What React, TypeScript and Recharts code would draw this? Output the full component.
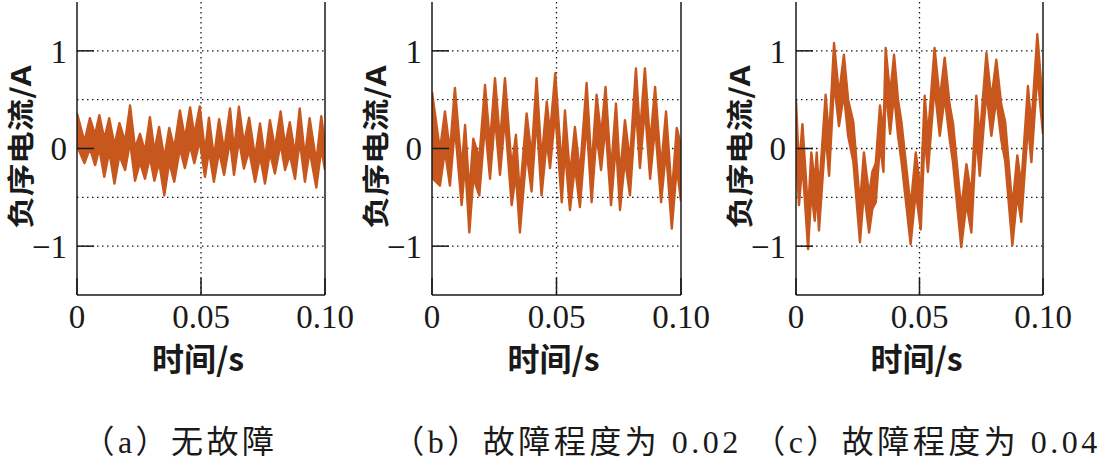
import { Area, CartesianGrid, ComposedChart, ReferenceLine, XAxis, YAxis } from "recharts";

// (a) 无故障 — band edges read at each local peak / trough
const aTime = [
  0, 0.003, 0.0052, 0.0073, 0.009, 0.011, 0.013, 0.0151, 0.0171, 0.0194, 0.0214, 0.0234, 0.0254,
  0.0274, 0.0294, 0.0312, 0.0331, 0.0352, 0.0372, 0.0392, 0.0415, 0.0435, 0.0456, 0.0473, 0.0495,
  0.0516, 0.0532, 0.0552, 0.0573, 0.0593, 0.0617, 0.0633, 0.0653, 0.0673, 0.0694, 0.0718, 0.0738,
  0.0758, 0.0778, 0.0798, 0.0821, 0.0839, 0.0858, 0.0879, 0.0898, 0.0919, 0.0938, 0.0965, 0.0985, 0.1,
];
const aUpper = [
  0.36, 0.07, 0.31, 0.14, 0.34, 0.1, 0.31, 0.03, 0.26, 0.07, 0.44, 0.0, 0.15,
  -0.03, 0.32, -0.03, 0.22, -0.1, 0.21, 0.0, 0.39, 0.1, 0.42, 0.14, 0.43,
  -0.04, 0.315, -0.09, 0.3, -0.02, 0.41, -0.02, 0.427, 0.05, 0.315, -0.09, 0.256,
  -0.11, 0.29, 0.0, 0.38, 0.03, 0.27, -0.06, 0.41, -0.09, 0.31, -0.14, 0.33, 0.03,
];
const aLower = [
  0.03, -0.15, 0.0, -0.17, 0.0, -0.29, -0.03, -0.36, -0.07, -0.22, 0.07, -0.33, -0.14,
  -0.31, -0.09, -0.33, -0.14, -0.48, -0.14, -0.34, 0.0, -0.2, 0.03, -0.15, 0.08,
  -0.29, -0.02, -0.34, -0.03, -0.27, 0.08, -0.27, 0.09, -0.205, -0.02, -0.34, -0.08,
  -0.36, -0.04, -0.256, 0.05, -0.22, -0.06, -0.31, 0.08, -0.34, -0.02, -0.4, 0.0, -0.22,
];

// (b) 故障程度为 0.02
const bTime = [
  0, 0.0032, 0.0052, 0.0072, 0.0092, 0.0119, 0.0133, 0.015, 0.0166, 0.019, 0.0213, 0.0233, 0.0253,
  0.0273, 0.0293, 0.032, 0.0337, 0.0353, 0.038, 0.04, 0.042, 0.044, 0.0461, 0.0474, 0.0495,
  0.0521, 0.0534, 0.0554, 0.0574, 0.0594, 0.0621, 0.0641, 0.0661, 0.0679, 0.0697, 0.0719, 0.0739,
  0.0755, 0.0775, 0.0795, 0.0819, 0.0835, 0.0855, 0.0876, 0.0896, 0.092, 0.094, 0.0963, 0.0983, 0.1,
];
const bUpper = [
  0.58, -0.02, 0.38, -0.03, 0.62, -0.2, 0.24, -0.45, 0.1, -0.1, 0.65, 0.05, 0.72,
  0.07, 0.72, -0.2, 0.14, -0.48, 0.36, -0.08, 0.72, -0.12, 0.48, 0.15, 0.77,
  -0.2, 0.39, -0.28, 0.22, -0.25, 0.67, -0.2, 0.55, 0.13, 0.63, -0.23, 0.46,
  -0.28, 0.29, -0.13, 0.82, 0.15, 0.82, 0.04, 0.63, -0.2, 0.38, -0.47, 0.21, 0.03,
];
const bLower = [
  -0.3, -0.38, -0.02, -0.38, 0.22, -0.58, -0.15, -0.86, -0.3, -0.48, 0.25, -0.31, 0.32,
  -0.27, 0.32, -0.58, -0.26, -0.86, -0.04, -0.44, 0.32, -0.48, 0.08, -0.2, 0.37,
  -0.55, -0.01, -0.63, -0.18, -0.6, 0.27, -0.55, 0.15, -0.22, 0.23, -0.58, 0.06,
  -0.63, -0.11, -0.48, 0.42, -0.2, 0.42, -0.31, 0.23, -0.55, -0.02, -0.82, -0.19, -0.54,
];

// (c) 故障程度为 0.04
const cTime = [
  0, 0.0012, 0.0026, 0.0049, 0.0062, 0.0076, 0.0084, 0.0093, 0.012, 0.0134, 0.0154, 0.0174, 0.0194,
  0.0211, 0.0232, 0.0259, 0.0275, 0.0296, 0.0309, 0.0323, 0.034, 0.0354, 0.0363, 0.0381, 0.0397,
  0.0413, 0.0427, 0.0464, 0.0485,
  0.0505, 0.0521, 0.0534, 0.0561, 0.0582, 0.0602, 0.0622, 0.0636, 0.0669, 0.069, 0.071, 0.073,
  0.0744, 0.0771, 0.0791, 0.0811, 0.0831, 0.0847, 0.0876, 0.0896, 0.0912, 0.0939, 0.0953, 0.0977, 0.1,
];
const cUpper = [
  0.49, -0.2, 0.25, -0.65, -0.04, -0.35, -0.04, -0.45, 0.55, 0.1, 1.08, 0.55, 0.96,
  0.5, 0.27, -0.58, -0.04, -0.48, -0.24, -0.15, 0.44, 0.15, 1.03, 0.55, 0.96,
  0.5, 0.27, -0.6, -0.04,
  -0.45, 0.54, 0.12, 1.03, 0.5, 0.93, 0.45, 0.25, -0.62, -0.16, -0.48, 0.54,
  0.1, 0.98, 0.5, 0.91, 0.45, 0.27, -0.6, -0.07, -0.38, 0.64, 0.23, 1.17, 0.42,
];
const cLower = [
  0.0, -0.58, -0.15, -1.03, -0.44, -0.74, -0.42, -0.84, 0.15, -0.28, 0.68, 0.23, 0.56,
  0.13, -0.13, -0.96, -0.44, -0.86, -0.62, -0.55, 0.04, -0.24, 0.63, 0.15, 0.56,
  0.13, -0.13, -0.98, -0.44,
  -0.83, 0.14, -0.24, 0.63, 0.13, 0.53, 0.1, -0.15, -1.01, -0.56, -0.86, 0.14,
  -0.28, 0.58, 0.13, 0.51, 0.09, -0.13, -0.99, -0.47, -0.75, 0.24, -0.14, 0.77, 0.15,
];

const xTicks = [0, 0.05, 0.1];
const yTicks = [-1, 0, 1];
const gridY = [-1, -0.5, 0, 0.5, 1];
const gridX = [0.05];
const captions = ["（a）无故障", "（b）故障程度为 0.02", "（c）故障程度为 0.04"];

const COLOR = "#C8571E";
const INK = "#1a1a1a";
const SERIF = "'Liberation Serif', 'Times New Roman', Times, serif";
const CJK = "'Noto Sans CJK SC', sans-serif";
const MIXED = "'Liberation Serif', 'Noto Sans CJK SC', serif";

const AXIS_W = 77;
const RIGHT = 34;

function fmtX(v: number) {
  return v === 0 ? "0" : v.toFixed(2);
}
function fmtY(v: number) {
  return v < 0 ? "\u2212" + Math.abs(v) : String(v);
}

const tickStyle = { fill: INK, fontSize: 33, fontFamily: SERIF, style: { fontFamily: SERIF } };

interface PanelProps {
  plotLeft: number;
  plotWidth: number;
  time: number[];
  upper: number[];
  lower: number[];
}

function Panel({ plotLeft, plotWidth, time, upper, lower }: PanelProps) {
  const data = time.map((t, i) => ({ t, band: [lower[i], upper[i]] }));
  return (
    <div style={{ position: "absolute", left: plotLeft - AXIS_W, top: 0, fontFamily: SERIF }}>
      <ComposedChart
        width={AXIS_W + plotWidth + RIGHT}
        height={400}
        data={data}
        margin={{ top: 2, right: RIGHT, bottom: 0, left: 0 }}
        style={{ fontFamily: SERIF }}
      >
        <CartesianGrid
          horizontalValues={gridY}
          verticalValues={gridX}
          stroke={INK}
          strokeWidth={1.3}
          strokeDasharray="1.5 3.5"
        />
        <Area
          type="linear"
          dataKey="band"
          stroke={COLOR}
          strokeWidth={2.4}
          strokeLinejoin="round"
          fill={COLOR}
          fillOpacity={1}
          dot={false}
          activeDot={false}
          isAnimationActive={false}
        />
        <XAxis
          type="number"
          dataKey="t"
          domain={[0, 0.1]}
          ticks={xTicks}
          tickFormatter={fmtX}
          height={105}
          tickSize={-17}
          tickMargin={27}
          interval={0}
          axisLine={{ stroke: INK, strokeWidth: 1.5 }}
          tickLine={{ stroke: INK, strokeWidth: 1.5 }}
          tick={tickStyle}
          allowDataOverflow
        />
        <YAxis
          type="number"
          domain={[-1.5, 1.5]}
          ticks={yTicks}
          tickFormatter={fmtY}
          width={AXIS_W}
          tickSize={-17}
          tickMargin={27}
          interval={0}
          axisLine={{ stroke: INK, strokeWidth: 1.5 }}
          tickLine={{ stroke: INK, strokeWidth: 1.5 }}
          tick={tickStyle}
          allowDataOverflow
        />
        <ReferenceLine x={0.1} stroke={INK} strokeWidth={1.5} />
        <text
          transform="translate(19 147) rotate(-90) scale(1.2 1)"
          x={0}
          y={0}
          textAnchor="middle"
          dominantBaseline="central"
          fontFamily={CJK}
          fontWeight={700}
          fontSize={27}
          fill={INK}
        >
          负序电流/A
        </text>
      </ComposedChart>
    </div>
  );
}

const panels = [
  { plotLeft: 77, plotWidth: 248, time: aTime, upper: aUpper, lower: aLower, caption: 0, capX: 180 },
  { plotLeft: 432, plotWidth: 249, time: bTime, upper: bUpper, lower: bLower, caption: 1, capX: 567 },
  { plotLeft: 796, plotWidth: 247, time: cTime, upper: cUpper, lower: cLower, caption: 2, capX: 927 },
];

export default function App() {
  return (
    <div
      style={{
        position: "absolute",
        left: 0,
        top: 0,
        width: 1115,
        height: 459,
        background: "#fff",
        overflow: "hidden",
      }}
    >
      {panels.map((p, i) => (
        <div key={i}>
          <Panel
            plotLeft={p.plotLeft}
            plotWidth={p.plotWidth}
            time={p.time}
            upper={p.upper}
            lower={p.lower}
          />
          <div
            style={{
              position: "absolute",
              left: p.plotLeft + p.plotWidth / 2 - 3,
              top: 357,
              transform: "translate(-50%, -50%)",
              whiteSpace: "nowrap",
              fontFamily: CJK,
              fontWeight: 700,
              fontSize: 32,
              color: INK,
              lineHeight: 1,
            }}
          >
            时间/s
          </div>
          <div
            style={{
              position: "absolute",
              left: p.capX,
              top: 442,
              transform: "translate(-50%, -50%)",
              whiteSpace: "nowrap",
              fontFamily: MIXED,
              fontSize: 32,
              letterSpacing: 3.5,
              color: INK,
              lineHeight: 1,
            }}
          >
            {captions[p.caption]}
          </div>
        </div>
      ))}
    </div>
  );
}
